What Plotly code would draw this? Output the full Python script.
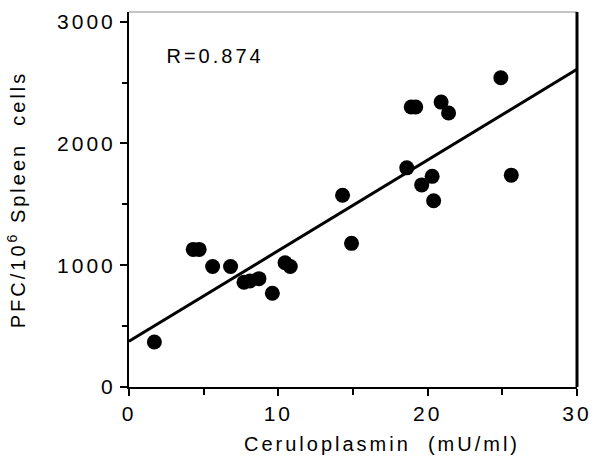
import plotly.graph_objects as go

# Data
ceruloplasmin = [1.7, 4.3, 4.7, 5.6, 6.8, 7.7, 8.1, 8.7, 9.6, 10.45, 10.8,
                 14.3, 14.9, 18.6, 18.9, 19.2, 19.6, 20.3, 20.4, 20.9, 21.4,
                 24.9, 25.6]
pfc = [370, 1130, 1130, 990, 990, 860, 870, 890, 770, 1020, 990,
       1575, 1180, 1800, 2300, 2300, 1660, 1730, 1530, 2340, 2250,
       2540, 1740]
fit_x = [0, 30]
fit_y = [375, 2610]
r_label = "R=0.874"
x_title = "Ceruloplasmin\u00a0\u00a0(mU/ml)"
y_title = "PFC/10<sup>6</sup> Spleen\u00a0\u00a0cells"
x_ticks = [0, 10, 20, 30]
y_ticks = [0, 1000, 2000, 3000]

FONT = "Liberation Sans, Arial, Helvetica, sans-serif"

fig = go.Figure()
fig.add_trace(go.Scatter(x=fit_x, y=fit_y, mode="lines",
                         line=dict(color="black", width=3), showlegend=False))
fig.add_trace(go.Scatter(x=ceruloplasmin, y=pfc, mode="markers",
                         marker=dict(color="black", size=15, line=dict(width=0)),
                         showlegend=False))

fig.add_annotation(x=3.05, y=2720, xref="x", yref="y", text=r_label,
                   showarrow=False, xanchor="left", yanchor="middle",
                   font=dict(family=FONT, size=20, color="black"))

# x-axis title (placed slightly right of centre as in the reference)
fig.add_annotation(x=0.565, y=-0.152, xref="paper", yref="paper", text=x_title,
                   showarrow=False, xanchor="center", yanchor="middle",
                   font=dict(family=FONT, size=20, color="black"))

# top (thin) and right (thick) frame lines
fig.add_shape(type="line", xref="paper", yref="paper", x0=0, x1=1, y0=1, y1=1,
              line=dict(color="#888", width=1))
fig.add_shape(type="line", xref="paper", yref="paper", x0=1, x1=1, y0=0, y1=1,
              line=dict(color="black", width=3))

fig.update_layout(
    width=607, height=467,
    margin=dict(l=129, r=30, t=10, b=80),
    plot_bgcolor="white", paper_bgcolor="white",
    font=dict(family=FONT, size=20, color="black"),
    xaxis=dict(range=[0, 30], tickvals=x_ticks,
               ticks="outside", ticklen=7, tickwidth=2, tickcolor="black",
               minor=dict(tickvals=[5, 15, 25], ticks="outside", ticklen=6,
                          tickwidth=2, tickcolor="black"),
               showline=True, linecolor="black", linewidth=2,
               showgrid=False, zeroline=False,
               tickfont=dict(family=FONT, size=21)),
    yaxis=dict(range=[0, 3080], tickvals=y_ticks,
               ticks="outside", ticklen=7, tickwidth=2, tickcolor="black",
               minor=dict(tickvals=[500, 1500, 2500], ticks="outside", ticklen=5,
                          tickwidth=2, tickcolor="black"),
               showline=True, linecolor="black", linewidth=2,
               showgrid=False, zeroline=False,
               title=dict(text=y_title, standoff=38,
                          font=dict(family=FONT, size=20)),
               tickfont=dict(family=FONT, size=21)),
)

post = """
var gd = document.getElementById('{plot_id}');
function spaceOut(){
  gd.querySelectorAll('text').forEach(function(t){ t.style.letterSpacing = '3px'; });
}
spaceOut();
setTimeout(spaceOut, 50);
if (gd.on) { gd.on('plotly_afterplot', spaceOut); }
"""

fig.write_html("out.html", post_script=post)
